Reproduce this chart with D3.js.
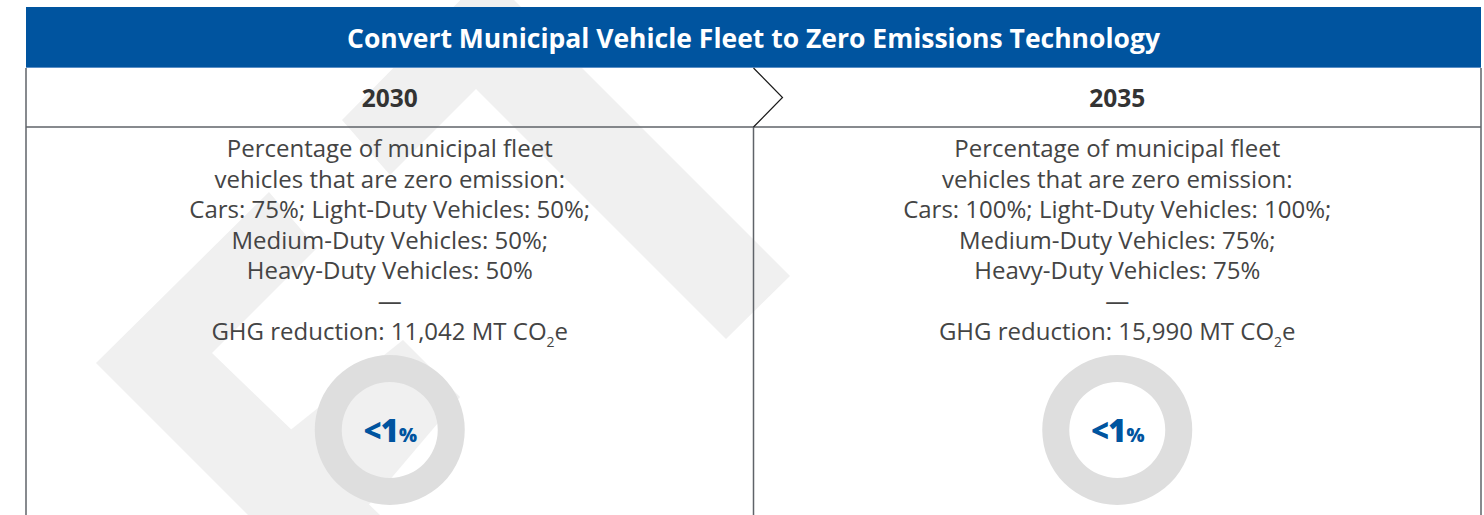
<!DOCTYPE html>
<html>
<head>
<meta charset="utf-8">
<script src="https://cdn.jsdelivr.net/npm/d3@7"></script>
<style>
  html, body { margin: 0; padding: 0; background: #fff; }
  svg { display: block; font-family: "Open Sans", "Noto Sans", sans-serif; }
</style>
</head>
<body>
<div id="chart"></div>
<script>
const title = "Convert Municipal Vehicle Fleet to Zero Emissions Technology";
const years = ["2030", "2035"];
const carsPct = [75, 100];
const lightDutyPct = [50, 100];
const mediumDutyPct = [50, 75];
const heavyDutyPct = [50, 75];
const ghgReduction = [11042, 15990];
const shareOfTotal = ["<1", "<1"];

const width = 1484, height = 515;
const left = 26, right = 1481;
const headTop = 7, headBottom = 68, yearBottom = 127;

const svg = d3.select("#chart").append("svg")
    .attr("width", width)
    .attr("height", height);

// background watermark (light gray chevrons)
const watermark = [
  [[487, -27], [790, 276], [726, 339], [476, 89], [390, 175], [342, 120]],
  [[96, 363], [248, 515], [380, 515], [212, 353], [317, 248], [269, 192]],
  [[403, 340], [460, 397], [360, 515], [300, 515], [288, 432]]
];
svg.append("g").selectAll("path")
  .data(watermark)
  .join("path")
    .attr("d", d => "M" + d.join("L") + "Z")
    .attr("fill", "#f0f0f0");

const x = d3.scaleBand().domain(years).range([left, right]);
const cx = d => x(d) + x.bandwidth() / 2;

// title bar
svg.append("rect")
    .attr("x", left).attr("y", headTop)
    .attr("width", right - left).attr("height", headBottom - headTop)
    .attr("fill", "#00549f");
svg.append("line")
    .attr("x1", left).attr("x2", right)
    .attr("y1", headBottom - 0.5).attr("y2", headBottom - 0.5)
    .attr("stroke", "#5b8fc6").attr("stroke-width", 1);
svg.append("text")
    .attr("x", (left + right) / 2).attr("y", 48)
    .attr("text-anchor", "middle")
    .attr("fill", "#fff")
    .attr("font-weight", 700)
    .attr("font-size", 26.5)
    .text(title);

// frame lines
const frame = svg.append("g").attr("stroke", "#5f6369").attr("stroke-width", 1.5).attr("fill", "none");
frame.append("line").attr("x1", left).attr("x2", left).attr("y1", headBottom).attr("y2", height);
frame.append("line").attr("x1", right).attr("x2", right).attr("y1", headBottom).attr("y2", height);
frame.append("line").attr("x1", left).attr("x2", right).attr("y1", yearBottom).attr("y2", yearBottom);
frame.append("line").attr("x1", x(years[1])).attr("x2", x(years[1])).attr("y1", yearBottom).attr("y2", height);

// arrow between the two years
const ax = x(years[1]);
svg.append("path")
    .attr("d", `M${ax},${headBottom}L${ax + 29},${(headBottom + yearBottom) / 2}L${ax},${yearBottom}`)
    .attr("fill", "none").attr("stroke", "#1a1a1a").attr("stroke-width", 1.2);

// year labels
svg.append("g").selectAll("text")
  .data(years)
  .join("text")
    .attr("x", d => cx(d)).attr("y", 107)
    .attr("text-anchor", "middle")
    .attr("fill", "#333")
    .attr("font-weight", 700)
    .attr("font-size", 24.5)
    .text(d => d);

// description text per column
const fmt = d3.format(",");
const col = svg.append("g").selectAll("g")
  .data(years.map((y, i) => ({ year: y, i })))
  .join("g");

col.each(function(d) {
  const g = d3.select(this);
  const i = d.i;
  const lines = [
    "Percentage of municipal fleet",
    "vehicles that are zero emission:",
    `Cars: ${carsPct[i]}%; Light-Duty Vehicles: ${lightDutyPct[i]}%;`,
    `Medium-Duty Vehicles: ${mediumDutyPct[i]}%;`,
    `Heavy-Duty Vehicles: ${heavyDutyPct[i]}%`,
    "\u2014"
  ];
  g.selectAll("text.line")
    .data(lines)
    .join("text")
      .attr("class", "line")
      .attr("x", cx(d.year))
      .attr("y", (t, j) => 157 + j * 30.5)
      .attr("text-anchor", "middle")
      .attr("fill", "#444")
      .attr("font-size", 24)
      .text(t => t);

  const ghg = g.append("text")
      .attr("x", cx(d.year)).attr("y", 340)
      .attr("text-anchor", "middle")
      .attr("fill", "#444")
      .attr("font-size", 24);
  ghg.append("tspan").text(`GHG reduction: ${fmt(ghgReduction[i])} MT CO`);
  ghg.append("tspan").attr("font-size", 14).attr("dy", 7).text("2");
  ghg.append("tspan").attr("dy", -7).text("e");

  // donut ring
  const ring = d3.arc().innerRadius(48).outerRadius(75);
  const pie = d3.pie().sort(null);
  g.append("g")
      .attr("transform", `translate(${cx(d.year)},430)`)
    .selectAll("path")
    .data(pie([1]))
    .join("path")
      .attr("d", ring)
      .attr("fill", "#dedede");

  const lab = g.append("text")
      .attr("x", cx(d.year)).attr("y", 442)
      .attr("text-anchor", "middle")
      .attr("fill", "#00549f")
      .attr("font-weight", 800)
      .attr("letter-spacing", -1);
  lab.append("tspan").attr("font-size", 31).text(shareOfTotal[i]);
  lab.append("tspan").attr("font-size", 19).attr("dx", 1).text("%");
});
</script>
</body>
</html>
